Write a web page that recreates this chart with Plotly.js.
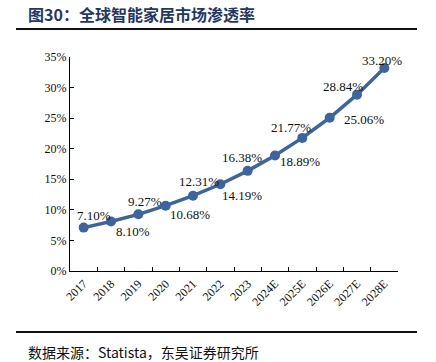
<!DOCTYPE html>
<html><head><meta charset="utf-8">
<script src="https://cdn.plot.ly/plotly-3.0.1.min.js"></script>
<style>html,body{margin:0;padding:0;background:#fff;}#chart{width:436px;height:362px;}</style>
</head><body><div id="chart"></div>
<script>
var years = ["2017","2018","2019","2020","2021","2022","2023","2024E","2025E","2026E","2027E","2028E"];
var penetration = [7.10, 8.10, 9.27, 10.68, 12.31, 14.19, 16.38, 18.89, 21.77, 25.06, 28.84, 33.20];
var valueLabels = ["7.10%","8.10%","9.27%","10.68%","12.31%","14.19%","16.38%","18.89%","21.77%","25.06%","28.84%","33.20%"];
var yTicks = [0,5,10,15,20,25,30,35];
var yTickText = ["0%","5%","10%","15%","20%","25%","30%","35%"];

// label offsets (pixels) relative to each point
var labelDx = [10, 22, 7, 24, 6, 22, -6, 25, -11, 34, -14, -2];
var labelDy = [12, -10, 13, -9, 14, -11, 13, -6, 10, -2, 8, 8];

var W = 436, H = 362;
var L = 70, R = 38, T = 57, B = 91;
var pw = W - L - R, ph = H - T - B;
function px(x){ return (x - L) / pw; }
function py(y){ return (H - B - y) / ph; }

var serif = "Liberation Serif, Times New Roman, serif";
var lineColor = "#3B64A0";

var annotations = years.map(function(c, i){
  return {x: i, y: penetration[i], xref: "x", yref: "y", text: valueLabels[i],
    showarrow: false, xshift: labelDx[i], yshift: labelDy[i],
    font: {family: serif, size: 13, color: "#111"}};
});
annotations.push({xref:"paper", yref:"paper", x: px(26), y: py(14), xanchor:"left", yanchor:"middle",
  text:"<b>图30：全球智能家居市场渗透率</b>", showarrow:false,
  font:{family:"Noto Sans CJK SC, sans-serif", size:16, color:"#1F3864"}});
annotations.push({xref:"paper", yref:"paper", x: px(26), y: py(352), xanchor:"left", yanchor:"middle",
  text:"数据来源：Statista，东吴证券研究所", showarrow:false,
  font:{family:"Noto Sans CJK SC, sans-serif", size:14, color:"#111"}});

var shapes = [
  {type:"line", xref:"paper", yref:"paper", x0:px(16), x1:px(417), y0:py(29), y1:py(29), line:{color:"#111", width:2}},
  {type:"line", xref:"paper", yref:"paper", x0:px(16), x1:px(417), y0:py(332), y1:py(332), line:{color:"#111", width:2}}
];

var trace = {
  x: years, y: penetration, type: "scatter", mode: "lines+markers",
  line: {color: lineColor, width: 3.5},
  marker: {color: lineColor, size: 10},
  hoverinfo: "skip", cliponaxis: false
};

var layout = {
  width: W, height: H,
  margin: {l: L, r: R, t: T, b: B, pad: 0},
  paper_bgcolor: "#fff", plot_bgcolor: "#fff",
  showlegend: false,
  xaxis: {type: "category", range: [-0.5, 11.5], showgrid: false, zeroline: false,
    showline: true, linecolor: "#000", linewidth: 1,
    ticks: "inside", tickson: "boundaries", ticklen: 4, tickcolor: "#000",
    tickangle: -45, tickfont: {family: serif, size: 12, color: "#111"}, fixedrange: true},
  yaxis: {range: [0, 35], tickvals: yTicks, ticktext: yTickText, showgrid: false, zeroline: false,
    showline: true, linecolor: "#000", linewidth: 1,
    ticks: "inside", ticklen: 4, tickcolor: "#000",
    tickfont: {family: serif, size: 12, color: "#111"}, fixedrange: true},
  annotations: annotations,
  shapes: shapes
};

Plotly.newPlot("chart", [trace], layout, {displayModeBar: false, staticPlot: true});
</script></body></html>
